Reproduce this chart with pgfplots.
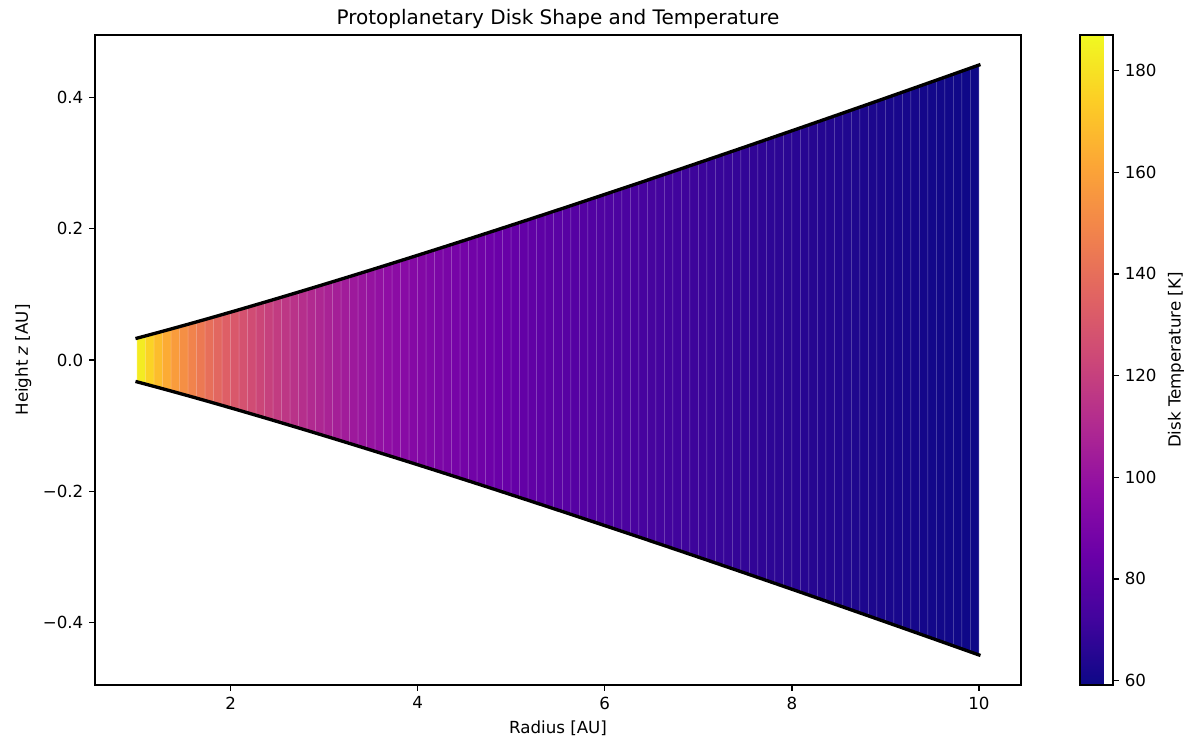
\documentclass[border=0pt]{standalone}
\usepackage{fontspec}
\setmainfont{DejaVu Sans}
\usepackage{pgfplots}
\usepackage{pgfplotstable}
\pgfplotsset{compat=1.18}
\pgfplotsset{colormap={plasma}{
  rgb255=(13,8,135) rgb255=(65,4,157) rgb255=(106,0,168) rgb255=(143,13,164)
  rgb255=(177,42,144) rgb255=(204,71,120) rgb255=(225,100,98) rgb255=(242,132,75)
  rgb255=(252,166,54) rgb255=(252,206,37) rgb255=(240,249,33)}}
% disk strips: radius, height (lower/upper edge), temperature
\pgfplotstableread{
r z T
1.0000 -0.03330 187.00
1.0000 0.03330 187.00
1.0909 -0.03674 179.04
1.0909 0.03674 179.04
1.1818 -0.04022 172.02
1.1818 0.04022 172.02
1.2727 -0.04373 165.76
1.2727 0.04373 165.76
1.3636 -0.04728 160.14
1.3636 0.04728 160.14
1.4545 -0.05085 155.05
1.4545 0.05085 155.05
1.5455 -0.05446 150.42
1.5455 0.05446 150.42
1.6364 -0.05809 146.19
1.6364 0.05809 146.19
1.7273 -0.06175 142.29
1.7273 0.06175 142.29
1.8182 -0.06544 138.68
1.8182 0.06544 138.68
1.9091 -0.06915 135.34
1.9091 0.06915 135.34
2.0000 -0.07288 132.23
2.0000 0.07288 132.23
2.0909 -0.07663 129.32
2.0909 0.07663 129.32
2.1818 -0.08041 126.60
2.1818 0.08041 126.60
2.2727 -0.08421 124.04
2.2727 0.08421 124.04
2.3636 -0.08802 121.63
2.3636 0.08802 121.63
2.4545 -0.09186 119.36
2.4545 0.09186 119.36
2.5455 -0.09571 117.21
2.5455 0.09571 117.21
2.6364 -0.09958 115.17
2.6364 0.09958 115.17
2.7273 -0.10347 113.23
2.7273 0.10347 113.23
2.8182 -0.10738 111.39
2.8182 0.10738 111.39
2.9091 -0.11130 109.64
2.9091 0.11130 109.64
3.0000 -0.11524 107.96
3.0000 0.11524 107.96
3.0909 -0.11919 106.37
3.0909 0.11919 106.37
3.1818 -0.12316 104.84
3.1818 0.12316 104.84
3.2727 -0.12714 103.37
3.2727 0.12714 103.37
3.3636 -0.13114 101.96
3.3636 0.13114 101.96
3.4545 -0.13515 100.61
3.4545 0.13515 100.61
3.5455 -0.13918 99.31
3.5455 0.13918 99.31
3.6364 -0.14322 98.06
3.6364 0.14322 98.06
3.7273 -0.14727 96.86
3.7273 0.14727 96.86
3.8182 -0.15134 95.70
3.8182 0.15134 95.70
3.9091 -0.15541 94.58
3.9091 0.15541 94.58
4.0000 -0.15950 93.50
4.0000 0.15950 93.50
4.0909 -0.16361 92.46
4.0909 0.16361 92.46
4.1818 -0.16772 91.45
4.1818 0.16772 91.45
4.2727 -0.17185 90.47
4.2727 0.17185 90.47
4.3636 -0.17598 89.52
4.3636 0.17598 89.52
4.4545 -0.18013 88.60
4.4545 0.18013 88.60
4.5455 -0.18429 87.71
4.5455 0.18429 87.71
4.6364 -0.18846 86.85
4.6364 0.18846 86.85
4.7273 -0.19264 86.01
4.7273 0.19264 86.01
4.8182 -0.19683 85.19
4.8182 0.19683 85.19
4.9091 -0.20104 84.40
4.9091 0.20104 84.40
5.0000 -0.20525 83.63
5.0000 0.20525 83.63
5.0909 -0.20947 82.88
5.0909 0.20947 82.88
5.1818 -0.21370 82.15
5.1818 0.21370 82.15
5.2727 -0.21794 81.44
5.2727 0.21794 81.44
5.3636 -0.22219 80.74
5.3636 0.22219 80.74
5.4545 -0.22645 80.07
5.4545 0.22645 80.07
5.5455 -0.23072 79.41
5.5455 0.23072 79.41
5.6364 -0.23500 78.77
5.6364 0.23500 78.77
5.7273 -0.23929 78.14
5.7273 0.23929 78.14
5.8182 -0.24359 77.53
5.8182 0.24359 77.53
5.9091 -0.24789 76.93
5.9091 0.24789 76.93
6.0000 -0.25220 76.34
6.0000 0.25220 76.34
6.0909 -0.25653 75.77
6.0909 0.25653 75.77
6.1818 -0.26086 75.21
6.1818 0.26086 75.21
6.2727 -0.26520 74.66
6.2727 0.26520 74.66
6.3636 -0.26954 74.13
6.3636 0.26954 74.13
6.4545 -0.27390 73.61
6.4545 0.27390 73.61
6.5455 -0.27826 73.09
6.5455 0.27826 73.09
6.6364 -0.28263 72.59
6.6364 0.28263 72.59
6.7273 -0.28701 72.10
6.7273 0.28701 72.10
6.8182 -0.29140 71.62
6.8182 0.29140 71.62
6.9091 -0.29579 71.14
6.9091 0.29579 71.14
7.0000 -0.30020 70.68
7.0000 0.30020 70.68
7.0909 -0.30461 70.22
7.0909 0.30461 70.22
7.1818 -0.30902 69.78
7.1818 0.30902 69.78
7.2727 -0.31344 69.34
7.2727 0.31344 69.34
7.3636 -0.31788 68.91
7.3636 0.31788 68.91
7.4545 -0.32231 68.49
7.4545 0.32231 68.49
7.5455 -0.32676 68.08
7.5455 0.32676 68.08
7.6364 -0.33121 67.67
7.6364 0.33121 67.67
7.7273 -0.33567 67.27
7.7273 0.33567 67.27
7.8182 -0.34014 66.88
7.8182 0.34014 66.88
7.9091 -0.34461 66.49
7.9091 0.34461 66.49
8.0000 -0.34909 66.11
8.0000 0.34909 66.11
8.0909 -0.35357 65.74
8.0909 0.35357 65.74
8.1818 -0.35807 65.38
8.1818 0.35807 65.38
8.2727 -0.36257 65.02
8.2727 0.36257 65.02
8.3636 -0.36707 64.66
8.3636 0.36707 64.66
8.4545 -0.37158 64.31
8.4545 0.37158 64.31
8.5455 -0.37610 63.97
8.5455 0.37610 63.97
8.6364 -0.38063 63.63
8.6364 0.38063 63.63
8.7273 -0.38516 63.30
8.7273 0.38516 63.30
8.8182 -0.38969 62.97
8.8182 0.38969 62.97
8.9091 -0.39423 62.65
8.9091 0.39423 62.65
9.0000 -0.39878 62.33
9.0000 0.39878 62.33
9.0909 -0.40334 62.02
9.0909 0.40334 62.02
9.1818 -0.40790 61.71
9.1818 0.40790 61.71
9.2727 -0.41247 61.41
9.2727 0.41247 61.41
9.3636 -0.41704 61.11
9.3636 0.41704 61.11
9.4545 -0.42162 60.82
9.4545 0.42162 60.82
9.5455 -0.42620 60.53
9.5455 0.42620 60.53
9.6364 -0.43079 60.24
9.6364 0.43079 60.24
9.7273 -0.43539 59.96
9.7273 0.43539 59.96
9.8182 -0.43999 59.68
9.8182 0.43999 59.68
9.9091 -0.44459 59.41
9.9091 0.44459 59.41
10.0000 -0.44920 59.13
10.0000 0.44920 59.13
}\disk
% disk surface: radius, scale height
\pgfplotstableread{
r H
1.0000 0.03330
1.0909 0.03674
1.1818 0.04022
1.2727 0.04373
1.3636 0.04728
1.4545 0.05085
1.5455 0.05446
1.6364 0.05809
1.7273 0.06175
1.8182 0.06544
1.9091 0.06915
2.0000 0.07288
2.0909 0.07663
2.1818 0.08041
2.2727 0.08421
2.3636 0.08802
2.4545 0.09186
2.5455 0.09571
2.6364 0.09958
2.7273 0.10347
2.8182 0.10738
2.9091 0.11130
3.0000 0.11524
3.0909 0.11919
3.1818 0.12316
3.2727 0.12714
3.3636 0.13114
3.4545 0.13515
3.5455 0.13918
3.6364 0.14322
3.7273 0.14727
3.8182 0.15134
3.9091 0.15541
4.0000 0.15950
4.0909 0.16361
4.1818 0.16772
4.2727 0.17185
4.3636 0.17598
4.4545 0.18013
4.5455 0.18429
4.6364 0.18846
4.7273 0.19264
4.8182 0.19683
4.9091 0.20104
5.0000 0.20525
5.0909 0.20947
5.1818 0.21370
5.2727 0.21794
5.3636 0.22219
5.4545 0.22645
5.5455 0.23072
5.6364 0.23500
5.7273 0.23929
5.8182 0.24359
5.9091 0.24789
6.0000 0.25220
6.0909 0.25653
6.1818 0.26086
6.2727 0.26520
6.3636 0.26954
6.4545 0.27390
6.5455 0.27826
6.6364 0.28263
6.7273 0.28701
6.8182 0.29140
6.9091 0.29579
7.0000 0.30020
7.0909 0.30461
7.1818 0.30902
7.2727 0.31344
7.3636 0.31788
7.4545 0.32231
7.5455 0.32676
7.6364 0.33121
7.7273 0.33567
7.8182 0.34014
7.9091 0.34461
8.0000 0.34909
8.0909 0.35357
8.1818 0.35807
8.2727 0.36257
8.3636 0.36707
8.4545 0.37158
8.5455 0.37610
8.6364 0.38063
8.7273 0.38516
8.8182 0.38969
8.9091 0.39423
9.0000 0.39878
9.0909 0.40334
9.1818 0.40790
9.2727 0.41247
9.3636 0.41704
9.4545 0.42162
9.5455 0.42620
9.6364 0.43079
9.7273 0.43539
9.8182 0.43999
9.9091 0.44459
10.0000 0.44920
}\edge
\begin{document}
\begin{tikzpicture}
\useasboundingbox (-57pt,-33pt) rectangle (654.6pt,411pt);
\begin{axis}[
  name=main,
  scale only axis, width=555.6pt, height=390pt,
  xmin=0.55, xmax=10.45, ymin=-0.495, ymax=0.495,
  xtick={2,4,6,8,10}, xticklabels={2,4,6,8,10},
  ytick={-0.4,-0.2,0,0.2,0.4}, yticklabels={−0.4,−0.2,0.0,0.2,0.4},
  tick align=outside, tick pos=left, major tick length=3.5pt,
  axis line style={line width=0.8pt},
  every tick/.style={black, line width=0.8pt},
  title={Protoplanetary Disk Shape and Temperature},
  title style={font=\fontsize{12}{14.4}\selectfont, yshift=-6pt},
  xlabel={Radius [AU]},
  ylabel={Height {\itshape z} [AU]},
  colormap name=plasma,
  point meta min=59.13, point meta max=187,
  colorbar,
  colorbar style={
    scale only axis, width=19.8pt, height=390pt,
    at={(parent axis.north east)}, anchor=north west, xshift=26.9pt,
    ytick={60,80,100,120,140,160,180},
    yticklabels={60,80,100,120,140,160,180},
    ylabel={Disk Temperature [K]},
    tick align=outside, major tick length=3.5pt,
    ytick pos=right, yticklabel pos=right,
    axis line style={line width=0.8pt},
    every tick/.style={black, line width=0.8pt},
  },
]
\addplot[surf, shader=faceted, faceted color=mapped color!72!white, line width=0.3pt,
  mesh/rows=100, mesh/cols=2, point meta=explicit]
  table[x=r, y=z, meta=T] {\disk};
\addplot[black, line width=2pt, line cap=rect, no marks]
  table[x=r, y=H] {\edge};
\addplot[black, line width=2pt, line cap=rect, no marks]
  table[x=r, y expr=-\thisrow{H}] {\edge};
\end{axis}
\end{tikzpicture}
\end{document}
